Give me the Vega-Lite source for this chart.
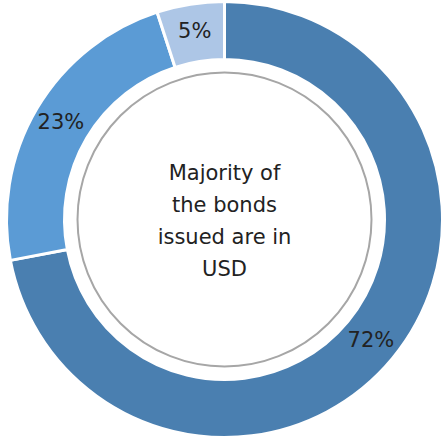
{
  "$schema": "https://vega.github.io/schema/vega-lite/v6.json",
  "width": 449,
  "height": 439,
  "padding": 0,
  "autosize": {"type": "none"},
  "background": "white",
  "view": {"stroke": null},
  "datasets": {
    "shares": [
      {"category": "USD", "value": 72, "label": "72%", "order": 1},
      {"category": "EUR", "value": 23, "label": "23%", "order": 2},
      {"category": "Other", "value": 5, "label": "5%", "order": 3}
    ],
    "center": [
      {"full": 1, "text": ["Majority of", "the bonds", "issued are in", "USD"]}
    ]
  },
  "resolve": {"scale": {"theta": "independent"}},
  "layer": [
    {
      "data": {"name": "shares"},
      "mark": {"type": "arc", "radius": 218, "radius2": 160, "stroke": "white", "strokeWidth": 3},
      "encoding": {
        "theta": {"field": "value", "type": "quantitative", "stack": true},
        "order": {"field": "order", "type": "quantitative"},
        "color": {
          "field": "category",
          "type": "nominal",
          "scale": {"domain": ["USD", "EUR", "Other"], "range": ["#4a7fb0", "#5b9bd5", "#adc6e6"]},
          "legend": null
        }
      }
    },
    {
      "data": {"name": "shares"},
      "mark": {"type": "text", "radius": 190, "fontSize": 21, "font": "DejaVu Sans", "color": "#222222", "align": "center", "baseline": "middle"},
      "encoding": {
        "theta": {"field": "value", "type": "quantitative", "stack": true},
        "order": {"field": "order", "type": "quantitative"},
        "text": {"field": "label", "type": "nominal"}
      }
    },
    {
      "data": {"name": "center"},
      "mark": {"type": "arc", "radius": 147, "fill": "white", "stroke": "#a6a6a6", "strokeWidth": 2},
      "encoding": {
        "theta": {"field": "full", "type": "quantitative", "scale": {"domain": [0, 1]}}
      }
    },
    {
      "data": {"name": "center"},
      "mark": {"type": "text", "fontSize": 21, "font": "DejaVu Sans", "color": "#222222", "align": "center", "baseline": "middle", "lineHeight": 32, "dy": -46},
      "encoding": {
        "text": {"field": "text"}
      }
    }
  ]
}
